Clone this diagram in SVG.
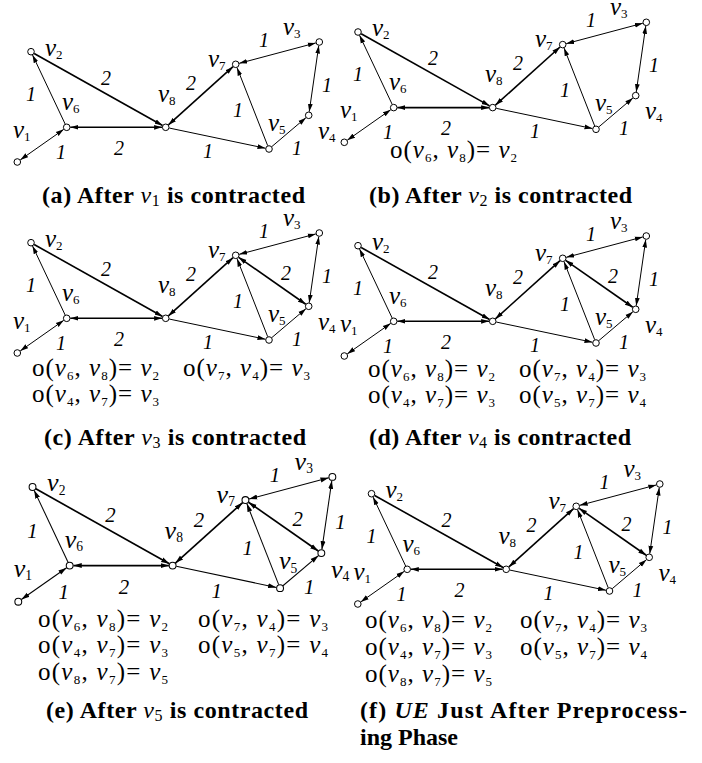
<svg xmlns="http://www.w3.org/2000/svg" width="702" height="763" viewBox="0 0 702 763">
<style>
.t{stroke:#000;stroke-width:1;fill:none}
.k{stroke:#000;stroke-width:1.6;fill:none}
.n circle{fill:#fff;stroke:#000;stroke-width:1}
.lbl{font-family:"Liberation Serif","Times New Roman",serif;font-style:italic;font-size:25px;fill:#000}
.sub{font-style:normal;font-size:13px}
.w{font-family:"Liberation Serif","Times New Roman",serif;font-style:italic;font-size:20px;text-anchor:middle;fill:#000}
.o{font-family:"Liberation Serif","Times New Roman",serif;font-size:25px;fill:#000}
.o .i{font-style:italic}
.o .s{font-size:13px}
.cap{font-family:"Liberation Serif","Times New Roman",serif;font-weight:bold;font-size:24px;fill:#000}
.cap .cv{font-style:italic;font-weight:normal}
.cap .cs{font-weight:normal;font-size:16px}
</style>
<defs>
<marker id="ah" viewBox="0 0 8 6" refX="8" refY="3" markerWidth="8" markerHeight="6" markerUnits="userSpaceOnUse" orient="auto-start-reverse"><path d="M0,0.6 L8,3 L0,5.4 z" fill="#000"/></marker>
</defs>

<!-- Panel (a) -->
<g id="panel-a">
<g id="a-connectors">
<path class="t" d="M20.25,159.93 L63.75,129.37" marker-start="url(#ah)" marker-end="url(#ah)"/>
<path class="t" d="M65.16,124.04 L32.54,54.96" marker-end="url(#ah)"/>
<path class="k" d="M34.14,53.46 L162.56,125.54" marker-end="url(#ah)"/>
<path class="k" d="M70.3,127.3 L162.1,127.3" marker-start="url(#ah)" marker-end="url(#ah)"/>
<path class="k" d="M168.38,124.89 L233.02,66.71" marker-start="url(#ah)" marker-end="url(#ah)"/>
<path class="t" d="M169.22,128.04 L265.48,148.26" marker-end="url(#ah)"/>
<path class="t" d="M267.68,145.65 L237.02,67.65" marker-end="url(#ah)"/>
<path class="t" d="M271.74,146.67 L305.96,117.63" marker-end="url(#ah)"/>
<path class="t" d="M239.18,63.37 L315.82,42.93" marker-start="url(#ah)" marker-end="url(#ah)"/>
<path class="t" d="M318.78,45.56 L309.22,111.74" marker-start="url(#ah)" marker-end="url(#ah)"/>
<text class="w" x="61" y="159">1</text><text class="w" x="31" y="101">1</text><text class="w" x="106" y="85">2</text><text class="w" x="119" y="155">2</text><text class="w" x="191" y="90">2</text><text class="w" x="208" y="158">1</text><text class="w" x="238" y="117">1</text><text class="w" x="264" y="47">1</text><text class="w" x="327" y="92">1</text><text class="w" x="297" y="155">1</text>
</g>
<g id="a-v1" class="n"><circle cx="17.3" cy="162" r="3.3"/><text class="lbl" x="13" y="138">v<tspan class="sub" dy="3">1</tspan></text></g>
<g id="a-v2" class="n"><circle cx="31" cy="51.7" r="3.3"/><text class="lbl" x="45" y="56">v<tspan class="sub" dy="3">2</tspan></text></g>
<g id="a-v3" class="n"><circle cx="319.3" cy="42" r="3.3"/><text class="lbl" x="283" y="35">v<tspan class="sub" dy="3">3</tspan></text></g>
<g id="a-v4" class="n"><circle cx="308.7" cy="115.3" r="3.3"/><text class="lbl" x="318" y="139">v<tspan class="sub" dy="3">4</tspan></text></g>
<g id="a-v5" class="n"><circle cx="269" cy="149" r="3.3"/><text class="lbl" x="268" y="131">v<tspan class="sub" dy="3">5</tspan></text></g>
<g id="a-v6" class="n"><circle cx="66.7" cy="127.3" r="3.3"/><text class="lbl" x="62" y="110">v<tspan class="sub" dy="3">6</tspan></text></g>
<g id="a-v7" class="n"><circle cx="235.7" cy="64.3" r="3.3"/><text class="lbl" x="208" y="67">v<tspan class="sub" dy="3">7</tspan></text></g>
<g id="a-v8" class="n"><circle cx="165.7" cy="127.3" r="3.3"/><text class="lbl" x="158" y="102">v<tspan class="sub" dy="3">8</tspan></text></g>
</g>

<!-- Panel (b) -->
<g id="panel-b" transform="translate(327,-19.7)">
<g id="b-connectors">
<path class="t" d="M20.25,159.93 L63.75,129.37" marker-start="url(#ah)" marker-end="url(#ah)"/>
<path class="t" d="M65.16,124.04 L32.54,54.96" marker-end="url(#ah)"/>
<path class="k" d="M34.14,53.46 L162.56,125.54" marker-end="url(#ah)"/>
<path class="k" d="M70.3,127.3 L162.1,127.3" marker-start="url(#ah)" marker-end="url(#ah)"/>
<path class="k" d="M168.38,124.89 L233.02,66.71" marker-start="url(#ah)" marker-end="url(#ah)"/>
<path class="t" d="M169.22,128.04 L265.48,148.26" marker-end="url(#ah)"/>
<path class="t" d="M267.68,145.65 L237.02,67.65" marker-end="url(#ah)"/>
<path class="t" d="M271.74,146.67 L305.96,117.63" marker-end="url(#ah)"/>
<path class="t" d="M239.18,63.37 L315.82,42.93" marker-start="url(#ah)" marker-end="url(#ah)"/>
<path class="t" d="M318.78,45.56 L309.22,111.74" marker-start="url(#ah)" marker-end="url(#ah)"/>
<text class="w" x="61" y="159">1</text><text class="w" x="31" y="101">1</text><text class="w" x="106" y="85">2</text><text class="w" x="119" y="155">2</text><text class="w" x="191" y="90">2</text><text class="w" x="208" y="158">1</text><text class="w" x="238" y="117">1</text><text class="w" x="264" y="47">1</text><text class="w" x="327" y="92">1</text><text class="w" x="297" y="155">1</text>
</g>
<g id="b-v1" class="n"><circle cx="17.3" cy="162" r="3.3"/><text class="lbl" x="13" y="138">v<tspan class="sub" dy="3">1</tspan></text></g>
<g id="b-v2" class="n"><circle cx="31" cy="51.7" r="3.3"/><text class="lbl" x="45" y="56">v<tspan class="sub" dy="3">2</tspan></text></g>
<g id="b-v3" class="n"><circle cx="319.3" cy="42" r="3.3"/><text class="lbl" x="283" y="35">v<tspan class="sub" dy="3">3</tspan></text></g>
<g id="b-v4" class="n"><circle cx="308.7" cy="115.3" r="3.3"/><text class="lbl" x="318" y="139">v<tspan class="sub" dy="3">4</tspan></text></g>
<g id="b-v5" class="n"><circle cx="269" cy="149" r="3.3"/><text class="lbl" x="268" y="131">v<tspan class="sub" dy="3">5</tspan></text></g>
<g id="b-v6" class="n"><circle cx="66.7" cy="127.3" r="3.3"/><text class="lbl" x="62" y="110">v<tspan class="sub" dy="3">6</tspan></text></g>
<g id="b-v7" class="n"><circle cx="235.7" cy="64.3" r="3.3"/><text class="lbl" x="208" y="67">v<tspan class="sub" dy="3">7</tspan></text></g>
<g id="b-v8" class="n"><circle cx="165.7" cy="127.3" r="3.3"/><text class="lbl" x="158" y="102">v<tspan class="sub" dy="3">8</tspan></text></g>
</g>

<!-- Panel (c) -->
<g id="panel-c" transform="translate(0,191)">
<g id="c-connectors">
<path class="t" d="M20.25,159.93 L63.75,129.37" marker-start="url(#ah)" marker-end="url(#ah)"/>
<path class="t" d="M65.16,124.04 L32.54,54.96" marker-end="url(#ah)"/>
<path class="k" d="M34.14,53.46 L162.56,125.54" marker-end="url(#ah)"/>
<path class="k" d="M70.3,127.3 L162.1,127.3" marker-start="url(#ah)" marker-end="url(#ah)"/>
<path class="k" d="M168.38,124.89 L233.02,66.71" marker-start="url(#ah)" marker-end="url(#ah)"/>
<path class="t" d="M169.22,128.04 L265.48,148.26" marker-end="url(#ah)"/>
<path class="t" d="M267.68,145.65 L237.02,67.65" marker-end="url(#ah)"/>
<path class="t" d="M271.74,146.67 L305.96,117.63" marker-end="url(#ah)"/>
<path class="t" d="M239.18,63.37 L315.82,42.93" marker-start="url(#ah)" marker-end="url(#ah)"/>
<path class="t" d="M318.78,45.56 L309.22,111.74" marker-start="url(#ah)" marker-end="url(#ah)"/>
<path class="k" d="M238.65,66.36 L305.75,113.24" marker-start="url(#ah)" marker-end="url(#ah)"/>
<text class="w" x="61" y="159">1</text><text class="w" x="31" y="101">1</text><text class="w" x="106" y="85">2</text><text class="w" x="119" y="155">2</text><text class="w" x="191" y="90">2</text><text class="w" x="208" y="158">1</text><text class="w" x="238" y="117">1</text><text class="w" x="264" y="47">1</text><text class="w" x="327" y="92">1</text><text class="w" x="297" y="155">1</text><text class="w" x="286" y="89">2</text>
</g>
<g id="c-v1" class="n"><circle cx="17.3" cy="162" r="3.3"/><text class="lbl" x="13" y="138">v<tspan class="sub" dy="3">1</tspan></text></g>
<g id="c-v2" class="n"><circle cx="31" cy="51.7" r="3.3"/><text class="lbl" x="45" y="56">v<tspan class="sub" dy="3">2</tspan></text></g>
<g id="c-v3" class="n"><circle cx="319.3" cy="42" r="3.3"/><text class="lbl" x="283" y="35">v<tspan class="sub" dy="3">3</tspan></text></g>
<g id="c-v4" class="n"><circle cx="308.7" cy="115.3" r="3.3"/><text class="lbl" x="318" y="139">v<tspan class="sub" dy="3">4</tspan></text></g>
<g id="c-v5" class="n"><circle cx="269" cy="149" r="3.3"/><text class="lbl" x="268" y="131">v<tspan class="sub" dy="3">5</tspan></text></g>
<g id="c-v6" class="n"><circle cx="66.7" cy="127.3" r="3.3"/><text class="lbl" x="62" y="110">v<tspan class="sub" dy="3">6</tspan></text></g>
<g id="c-v7" class="n"><circle cx="235.7" cy="64.3" r="3.3"/><text class="lbl" x="208" y="67">v<tspan class="sub" dy="3">7</tspan></text></g>
<g id="c-v8" class="n"><circle cx="165.7" cy="127.3" r="3.3"/><text class="lbl" x="158" y="102">v<tspan class="sub" dy="3">8</tspan></text></g>
</g>

<!-- Panel (d) -->
<g id="panel-d" transform="translate(327,194)">
<g id="d-connectors">
<path class="t" d="M20.25,159.93 L63.75,129.37" marker-start="url(#ah)" marker-end="url(#ah)"/>
<path class="t" d="M65.16,124.04 L32.54,54.96" marker-end="url(#ah)"/>
<path class="k" d="M34.14,53.46 L162.56,125.54" marker-end="url(#ah)"/>
<path class="k" d="M70.3,127.3 L162.1,127.3" marker-start="url(#ah)" marker-end="url(#ah)"/>
<path class="k" d="M168.38,124.89 L233.02,66.71" marker-start="url(#ah)" marker-end="url(#ah)"/>
<path class="t" d="M169.22,128.04 L265.48,148.26" marker-end="url(#ah)"/>
<path class="t" d="M267.68,145.65 L237.02,67.65" marker-end="url(#ah)"/>
<path class="t" d="M271.74,146.67 L305.96,117.63" marker-end="url(#ah)"/>
<path class="t" d="M239.18,63.37 L315.82,42.93" marker-start="url(#ah)" marker-end="url(#ah)"/>
<path class="t" d="M318.78,45.56 L309.22,111.74" marker-start="url(#ah)" marker-end="url(#ah)"/>
<path class="k" d="M238.65,66.36 L305.75,113.24" marker-start="url(#ah)" marker-end="url(#ah)"/>
<text class="w" x="61" y="159">1</text><text class="w" x="31" y="101">1</text><text class="w" x="106" y="85">2</text><text class="w" x="119" y="155">2</text><text class="w" x="191" y="90">2</text><text class="w" x="208" y="158">1</text><text class="w" x="238" y="117">1</text><text class="w" x="264" y="47">1</text><text class="w" x="327" y="92">1</text><text class="w" x="297" y="155">1</text><text class="w" x="286" y="89">2</text>
</g>
<g id="d-v1" class="n"><circle cx="17.3" cy="162" r="3.3"/><text class="lbl" x="13" y="138">v<tspan class="sub" dy="3">1</tspan></text></g>
<g id="d-v2" class="n"><circle cx="31" cy="51.7" r="3.3"/><text class="lbl" x="45" y="56">v<tspan class="sub" dy="3">2</tspan></text></g>
<g id="d-v3" class="n"><circle cx="319.3" cy="42" r="3.3"/><text class="lbl" x="283" y="35">v<tspan class="sub" dy="3">3</tspan></text></g>
<g id="d-v4" class="n"><circle cx="308.7" cy="115.3" r="3.3"/><text class="lbl" x="318" y="139">v<tspan class="sub" dy="3">4</tspan></text></g>
<g id="d-v5" class="n"><circle cx="269" cy="149" r="3.3"/><text class="lbl" x="268" y="131">v<tspan class="sub" dy="3">5</tspan></text></g>
<g id="d-v6" class="n"><circle cx="66.7" cy="127.3" r="3.3"/><text class="lbl" x="62" y="110">v<tspan class="sub" dy="3">6</tspan></text></g>
<g id="d-v7" class="n"><circle cx="235.7" cy="64.3" r="3.3"/><text class="lbl" x="208" y="67">v<tspan class="sub" dy="3">7</tspan></text></g>
<g id="d-v8" class="n"><circle cx="165.7" cy="127.3" r="3.3"/><text class="lbl" x="158" y="102">v<tspan class="sub" dy="3">8</tspan></text></g>
</g>

<!-- Panel (e) -->
<g id="panel-e" transform="translate(0.3,433.2) scale(1.04)">
<g id="e-connectors">
<path class="t" d="M20.25,159.93 L63.75,129.37" marker-start="url(#ah)" marker-end="url(#ah)"/>
<path class="t" d="M65.16,124.04 L32.54,54.96" marker-end="url(#ah)"/>
<path class="k" d="M34.14,53.46 L162.56,125.54" marker-end="url(#ah)"/>
<path class="k" d="M70.3,127.3 L162.1,127.3" marker-start="url(#ah)" marker-end="url(#ah)"/>
<path class="k" d="M168.38,124.89 L233.02,66.71" marker-start="url(#ah)" marker-end="url(#ah)"/>
<path class="t" d="M169.22,128.04 L265.48,148.26" marker-end="url(#ah)"/>
<path class="t" d="M267.68,145.65 L237.02,67.65" marker-end="url(#ah)"/>
<path class="t" d="M271.74,146.67 L305.96,117.63" marker-end="url(#ah)"/>
<path class="t" d="M239.18,63.37 L315.82,42.93" marker-start="url(#ah)" marker-end="url(#ah)"/>
<path class="t" d="M318.78,45.56 L309.22,111.74" marker-start="url(#ah)" marker-end="url(#ah)"/>
<path class="k" d="M238.65,66.36 L305.75,113.24" marker-start="url(#ah)" marker-end="url(#ah)"/>
<text class="w" x="61" y="159">1</text><text class="w" x="31" y="101">1</text><text class="w" x="106" y="85">2</text><text class="w" x="119" y="155">2</text><text class="w" x="191" y="90">2</text><text class="w" x="208" y="158">1</text><text class="w" x="238" y="117">1</text><text class="w" x="264" y="47">1</text><text class="w" x="327" y="92">1</text><text class="w" x="297" y="155">1</text><text class="w" x="286" y="89">2</text>
</g>
<g id="e-v1" class="n"><circle cx="17.3" cy="162" r="3.3"/><text class="lbl" x="13" y="138">v<tspan class="sub" dy="3">1</tspan></text></g>
<g id="e-v2" class="n"><circle cx="31" cy="51.7" r="3.3"/><text class="lbl" x="45" y="56">v<tspan class="sub" dy="3">2</tspan></text></g>
<g id="e-v3" class="n"><circle cx="319.3" cy="42" r="3.3"/><text class="lbl" x="283" y="35">v<tspan class="sub" dy="3">3</tspan></text></g>
<g id="e-v4" class="n"><circle cx="308.7" cy="115.3" r="3.3"/><text class="lbl" x="318" y="139">v<tspan class="sub" dy="3">4</tspan></text></g>
<g id="e-v5" class="n"><circle cx="269" cy="149" r="3.3"/><text class="lbl" x="268" y="131">v<tspan class="sub" dy="3">5</tspan></text></g>
<g id="e-v6" class="n"><circle cx="66.7" cy="127.3" r="3.3"/><text class="lbl" x="62" y="110">v<tspan class="sub" dy="3">6</tspan></text></g>
<g id="e-v7" class="n"><circle cx="235.7" cy="64.3" r="3.3"/><text class="lbl" x="208" y="67">v<tspan class="sub" dy="3">7</tspan></text></g>
<g id="e-v8" class="n"><circle cx="165.7" cy="127.3" r="3.3"/><text class="lbl" x="158" y="102">v<tspan class="sub" dy="3">8</tspan></text></g>
</g>

<!-- Panel (f) -->
<g id="panel-f" transform="translate(340.5,442)">
<g id="f-connectors">
<path class="t" d="M20.25,159.93 L63.75,129.37" marker-start="url(#ah)" marker-end="url(#ah)"/>
<path class="t" d="M65.16,124.04 L32.54,54.96" marker-end="url(#ah)"/>
<path class="k" d="M34.14,53.46 L162.56,125.54" marker-end="url(#ah)"/>
<path class="k" d="M70.3,127.3 L162.1,127.3" marker-start="url(#ah)" marker-end="url(#ah)"/>
<path class="k" d="M168.38,124.89 L233.02,66.71" marker-start="url(#ah)" marker-end="url(#ah)"/>
<path class="t" d="M169.22,128.04 L265.48,148.26" marker-end="url(#ah)"/>
<path class="t" d="M267.68,145.65 L237.02,67.65" marker-end="url(#ah)"/>
<path class="t" d="M271.74,146.67 L305.96,117.63" marker-end="url(#ah)"/>
<path class="t" d="M239.18,63.37 L315.82,42.93" marker-start="url(#ah)" marker-end="url(#ah)"/>
<path class="t" d="M318.78,45.56 L309.22,111.74" marker-start="url(#ah)" marker-end="url(#ah)"/>
<path class="k" d="M238.65,66.36 L305.75,113.24" marker-start="url(#ah)" marker-end="url(#ah)"/>
<text class="w" x="61" y="159">1</text><text class="w" x="31" y="101">1</text><text class="w" x="106" y="85">2</text><text class="w" x="119" y="155">2</text><text class="w" x="191" y="90">2</text><text class="w" x="208" y="158">1</text><text class="w" x="238" y="117">1</text><text class="w" x="264" y="47">1</text><text class="w" x="327" y="92">1</text><text class="w" x="297" y="155">1</text><text class="w" x="286" y="89">2</text>
</g>
<g id="f-v1" class="n"><circle cx="17.3" cy="162" r="3.3"/><text class="lbl" x="13" y="138">v<tspan class="sub" dy="3">1</tspan></text></g>
<g id="f-v2" class="n"><circle cx="31" cy="51.7" r="3.3"/><text class="lbl" x="45" y="56">v<tspan class="sub" dy="3">2</tspan></text></g>
<g id="f-v3" class="n"><circle cx="319.3" cy="42" r="3.3"/><text class="lbl" x="283" y="35">v<tspan class="sub" dy="3">3</tspan></text></g>
<g id="f-v4" class="n"><circle cx="308.7" cy="115.3" r="3.3"/><text class="lbl" x="318" y="139">v<tspan class="sub" dy="3">4</tspan></text></g>
<g id="f-v5" class="n"><circle cx="269" cy="149" r="3.3"/><text class="lbl" x="268" y="131">v<tspan class="sub" dy="3">5</tspan></text></g>
<g id="f-v6" class="n"><circle cx="66.7" cy="127.3" r="3.3"/><text class="lbl" x="62" y="110">v<tspan class="sub" dy="3">6</tspan></text></g>
<g id="f-v7" class="n"><circle cx="235.7" cy="64.3" r="3.3"/><text class="lbl" x="208" y="67">v<tspan class="sub" dy="3">7</tspan></text></g>
<g id="f-v8" class="n"><circle cx="165.7" cy="127.3" r="3.3"/><text class="lbl" x="158" y="102">v<tspan class="sub" dy="3">8</tspan></text></g>
</g>

<!-- o() annotations -->
<g id="annotations">
<text class="o" x="390" y="158" textLength="127">o(<tspan class="i">v</tspan><tspan class="s" dy="4">6</tspan><tspan dy="-4">, </tspan><tspan class="i">v</tspan><tspan class="s" dy="4">8</tspan><tspan dy="-4">)= </tspan><tspan class="i">v</tspan><tspan class="s" dy="4">2</tspan></text>

<text class="o" x="32" y="376" textLength="127">o(<tspan class="i">v</tspan><tspan class="s" dy="4">6</tspan><tspan dy="-4">, </tspan><tspan class="i">v</tspan><tspan class="s" dy="4">8</tspan><tspan dy="-4">)= </tspan><tspan class="i">v</tspan><tspan class="s" dy="4">2</tspan></text>
<text class="o" x="183" y="376" textLength="127">o(<tspan class="i">v</tspan><tspan class="s" dy="4">7</tspan><tspan dy="-4">, </tspan><tspan class="i">v</tspan><tspan class="s" dy="4">4</tspan><tspan dy="-4">)= </tspan><tspan class="i">v</tspan><tspan class="s" dy="4">3</tspan></text>
<text class="o" x="32" y="402" textLength="127">o(<tspan class="i">v</tspan><tspan class="s" dy="4">4</tspan><tspan dy="-4">, </tspan><tspan class="i">v</tspan><tspan class="s" dy="4">7</tspan><tspan dy="-4">)= </tspan><tspan class="i">v</tspan><tspan class="s" dy="4">3</tspan></text>

<text class="o" x="368" y="377" textLength="127">o(<tspan class="i">v</tspan><tspan class="s" dy="4">6</tspan><tspan dy="-4">, </tspan><tspan class="i">v</tspan><tspan class="s" dy="4">8</tspan><tspan dy="-4">)= </tspan><tspan class="i">v</tspan><tspan class="s" dy="4">2</tspan></text>
<text class="o" x="519" y="377" textLength="127">o(<tspan class="i">v</tspan><tspan class="s" dy="4">7</tspan><tspan dy="-4">, </tspan><tspan class="i">v</tspan><tspan class="s" dy="4">4</tspan><tspan dy="-4">)= </tspan><tspan class="i">v</tspan><tspan class="s" dy="4">3</tspan></text>
<text class="o" x="368" y="403" textLength="127">o(<tspan class="i">v</tspan><tspan class="s" dy="4">4</tspan><tspan dy="-4">, </tspan><tspan class="i">v</tspan><tspan class="s" dy="4">7</tspan><tspan dy="-4">)= </tspan><tspan class="i">v</tspan><tspan class="s" dy="4">3</tspan></text>
<text class="o" x="519" y="403" textLength="127">o(<tspan class="i">v</tspan><tspan class="s" dy="4">5</tspan><tspan dy="-4">, </tspan><tspan class="i">v</tspan><tspan class="s" dy="4">7</tspan><tspan dy="-4">)= </tspan><tspan class="i">v</tspan><tspan class="s" dy="4">4</tspan></text>

<text class="o" x="38" y="627" textLength="130">o(<tspan class="i">v</tspan><tspan class="s" dy="4">6</tspan><tspan dy="-4">, </tspan><tspan class="i">v</tspan><tspan class="s" dy="4">8</tspan><tspan dy="-4">)= </tspan><tspan class="i">v</tspan><tspan class="s" dy="4">2</tspan></text>
<text class="o" x="198" y="627" textLength="130">o(<tspan class="i">v</tspan><tspan class="s" dy="4">7</tspan><tspan dy="-4">, </tspan><tspan class="i">v</tspan><tspan class="s" dy="4">4</tspan><tspan dy="-4">)= </tspan><tspan class="i">v</tspan><tspan class="s" dy="4">3</tspan></text>
<text class="o" x="38" y="653" textLength="130">o(<tspan class="i">v</tspan><tspan class="s" dy="4">4</tspan><tspan dy="-4">, </tspan><tspan class="i">v</tspan><tspan class="s" dy="4">7</tspan><tspan dy="-4">)= </tspan><tspan class="i">v</tspan><tspan class="s" dy="4">3</tspan></text>
<text class="o" x="198" y="653" textLength="130">o(<tspan class="i">v</tspan><tspan class="s" dy="4">5</tspan><tspan dy="-4">, </tspan><tspan class="i">v</tspan><tspan class="s" dy="4">7</tspan><tspan dy="-4">)= </tspan><tspan class="i">v</tspan><tspan class="s" dy="4">4</tspan></text>
<text class="o" x="38" y="680" textLength="130">o(<tspan class="i">v</tspan><tspan class="s" dy="4">8</tspan><tspan dy="-4">, </tspan><tspan class="i">v</tspan><tspan class="s" dy="4">7</tspan><tspan dy="-4">)= </tspan><tspan class="i">v</tspan><tspan class="s" dy="4">5</tspan></text>

<text class="o" x="365" y="628" textLength="127">o(<tspan class="i">v</tspan><tspan class="s" dy="4">6</tspan><tspan dy="-4">, </tspan><tspan class="i">v</tspan><tspan class="s" dy="4">8</tspan><tspan dy="-4">)= </tspan><tspan class="i">v</tspan><tspan class="s" dy="4">2</tspan></text>
<text class="o" x="520" y="628" textLength="127">o(<tspan class="i">v</tspan><tspan class="s" dy="4">7</tspan><tspan dy="-4">, </tspan><tspan class="i">v</tspan><tspan class="s" dy="4">4</tspan><tspan dy="-4">)= </tspan><tspan class="i">v</tspan><tspan class="s" dy="4">3</tspan></text>
<text class="o" x="365" y="655" textLength="127">o(<tspan class="i">v</tspan><tspan class="s" dy="4">4</tspan><tspan dy="-4">, </tspan><tspan class="i">v</tspan><tspan class="s" dy="4">7</tspan><tspan dy="-4">)= </tspan><tspan class="i">v</tspan><tspan class="s" dy="4">3</tspan></text>
<text class="o" x="520" y="655" textLength="127">o(<tspan class="i">v</tspan><tspan class="s" dy="4">5</tspan><tspan dy="-4">, </tspan><tspan class="i">v</tspan><tspan class="s" dy="4">7</tspan><tspan dy="-4">)= </tspan><tspan class="i">v</tspan><tspan class="s" dy="4">4</tspan></text>
<text class="o" x="365" y="682" textLength="127">o(<tspan class="i">v</tspan><tspan class="s" dy="4">8</tspan><tspan dy="-4">, </tspan><tspan class="i">v</tspan><tspan class="s" dy="4">7</tspan><tspan dy="-4">)= </tspan><tspan class="i">v</tspan><tspan class="s" dy="4">5</tspan></text>
</g>

<!-- Captions -->
<g id="captions">
<text class="cap" x="42" y="203" textLength="263">(a) After <tspan class="cv">v</tspan><tspan class="cs" dy="3">1</tspan><tspan dy="-3"> is contracted</tspan></text>
<text class="cap" x="369" y="203" textLength="263">(b) After <tspan class="cv">v</tspan><tspan class="cs" dy="3">2</tspan><tspan dy="-3"> is contracted</tspan></text>
<text class="cap" x="44" y="445" textLength="262">(c) After <tspan class="cv">v</tspan><tspan class="cs" dy="3">3</tspan><tspan dy="-3"> is contracted</tspan></text>
<text class="cap" x="369" y="445" textLength="262">(d) After <tspan class="cv">v</tspan><tspan class="cs" dy="3">4</tspan><tspan dy="-3"> is contracted</tspan></text>
<text class="cap" x="46" y="718" textLength="262">(e) After <tspan class="cv">v</tspan><tspan class="cs" dy="3">5</tspan><tspan dy="-3"> is contracted</tspan></text>
<text class="cap" x="360" y="718" textLength="327">(f) <tspan font-style="italic">UE</tspan> Just After Preprocess-</text>
<text class="cap" x="360" y="745">ing Phase</text>
</g>
</svg>
